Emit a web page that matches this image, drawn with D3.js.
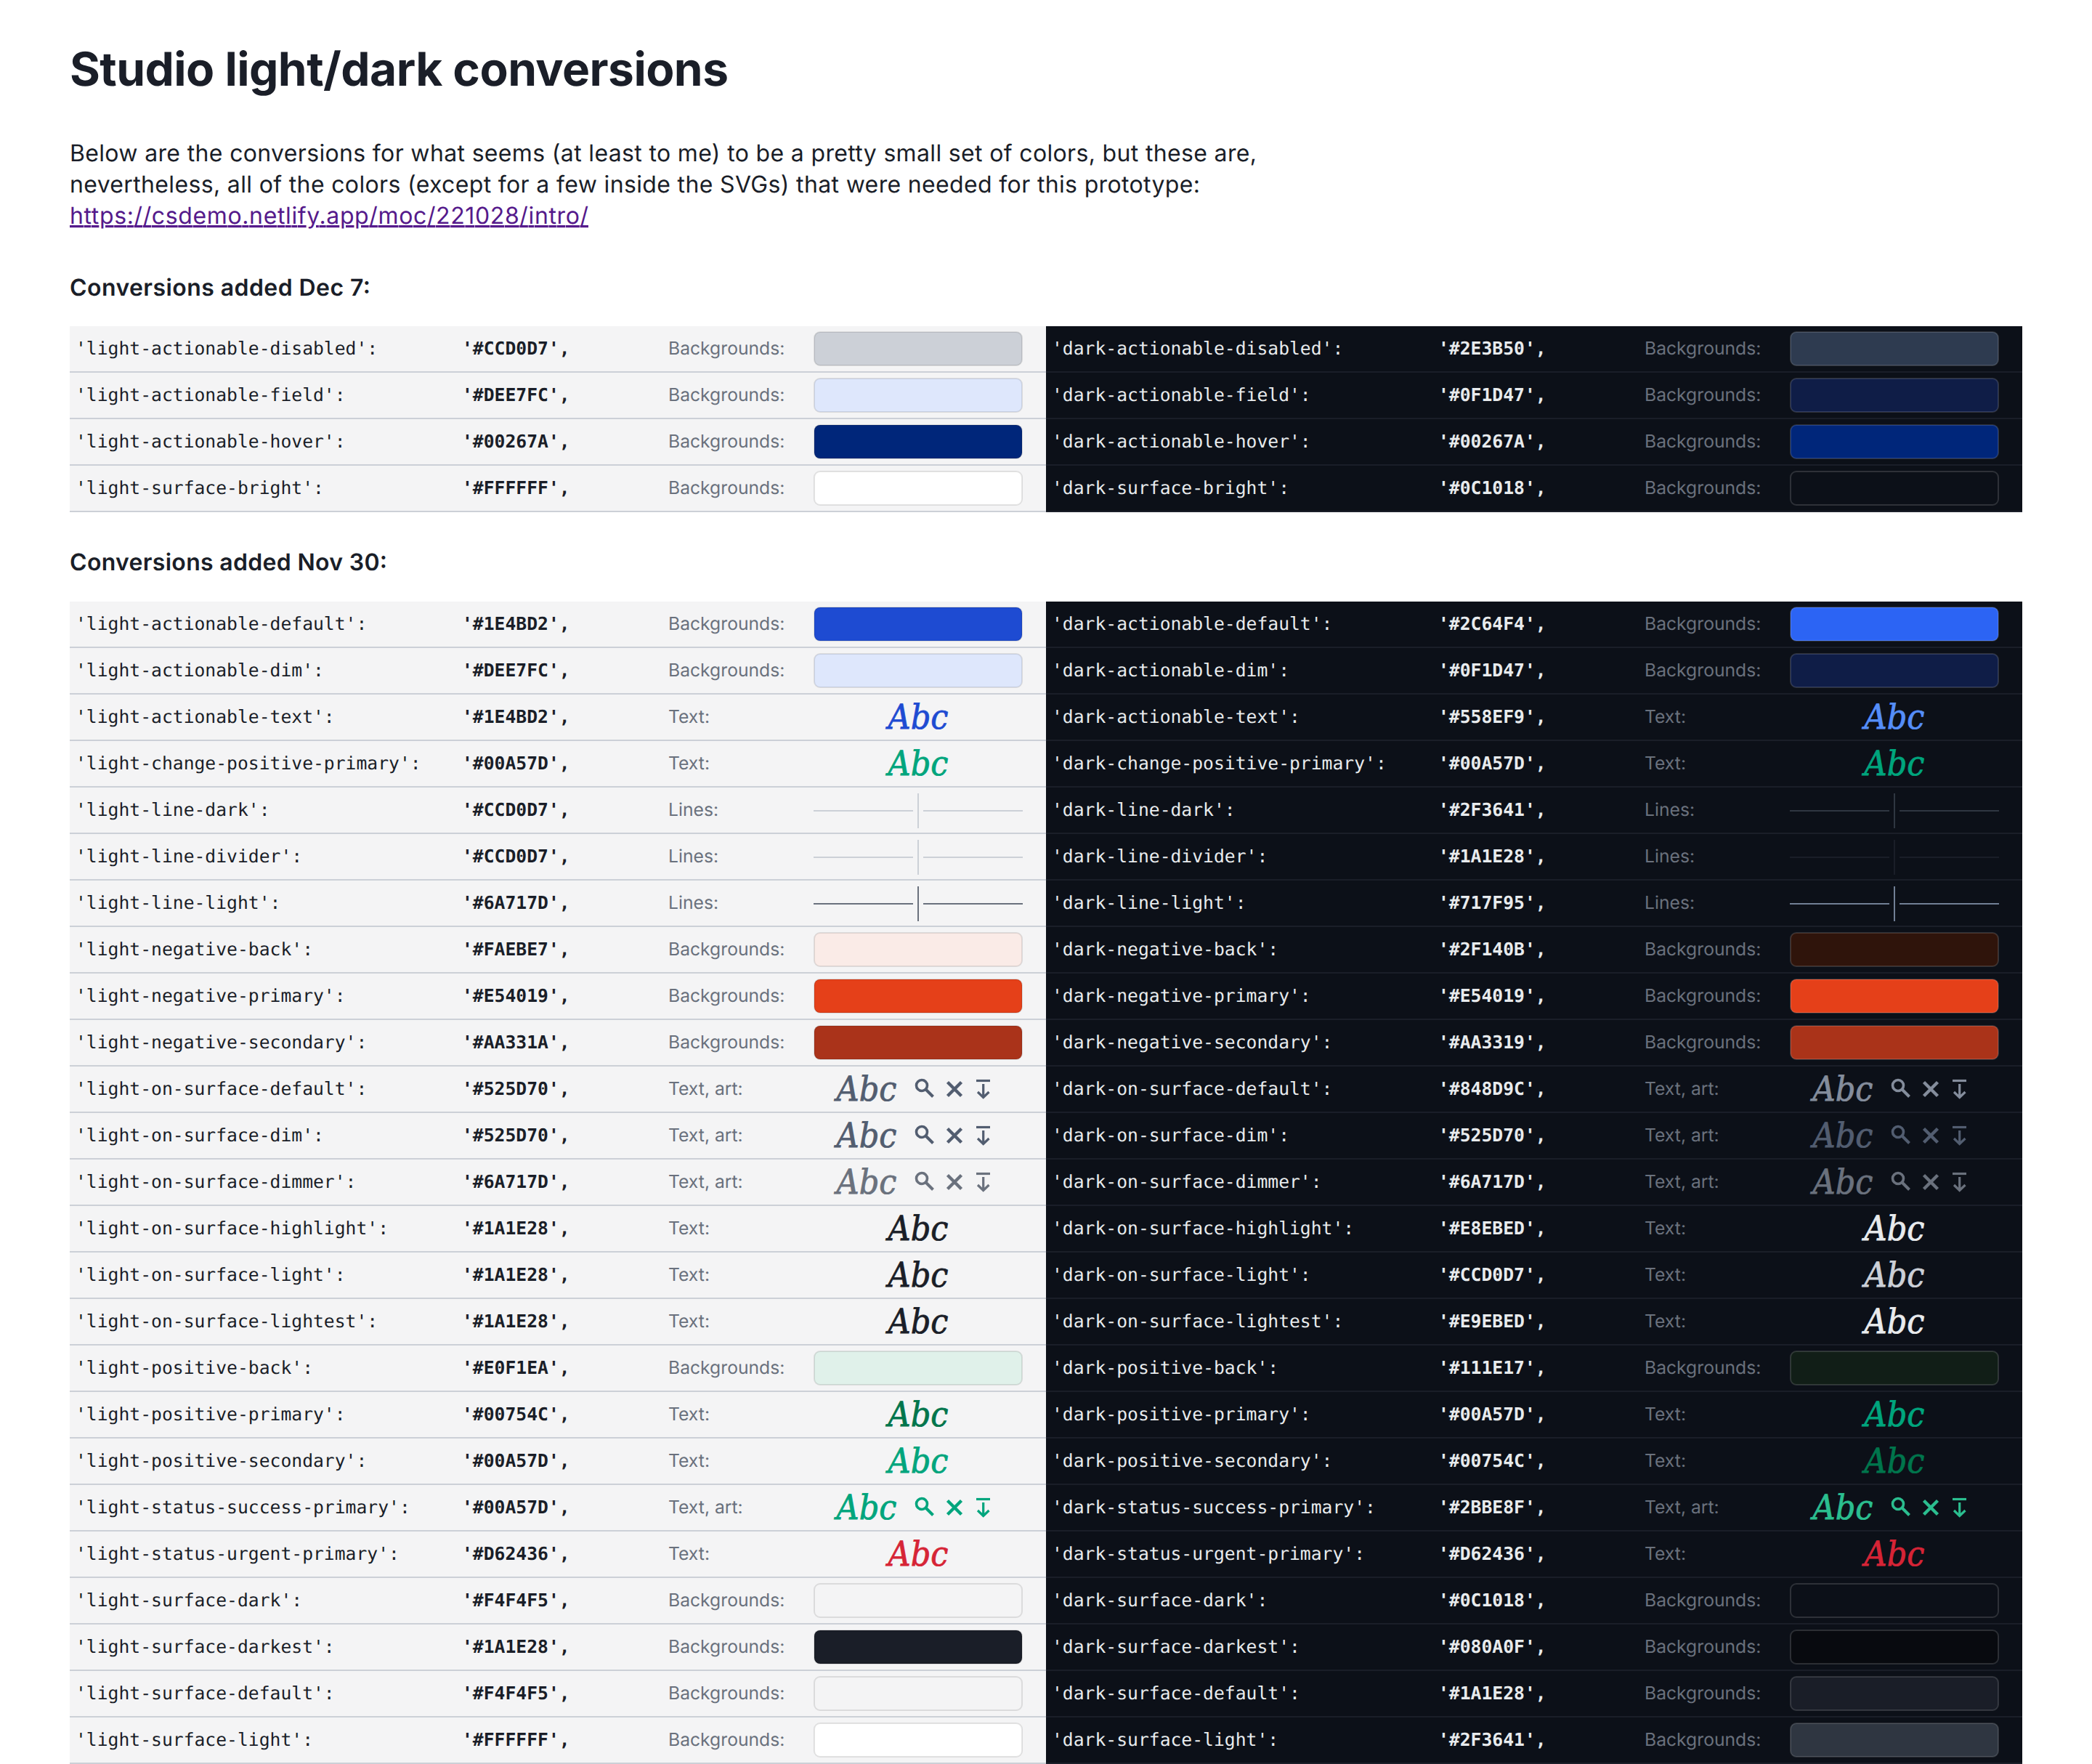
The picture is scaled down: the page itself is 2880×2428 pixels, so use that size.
<!DOCTYPE html>
<html><head><meta charset="utf-8">
<script src="https://cdn.jsdelivr.net/npm/d3@7"></script>
<style>
html,body{margin:0;padding:0;background:#fff;overflow:hidden}
svg{display:block}
text{text-rendering:geometricPrecision}
</style></head><body>
<div id="chart"></div>
<script>
// ---------- data ----------
const title = "Studio light/dark conversions";
const introLines = [
  "Below are the conversions for what seems (at least to me) to be a pretty small set of colors, but these are,",
  "nevertheless, all of the colors (except for a few inside the SVGs) that were needed for this prototype:"
];
const linkText = "https://csdemo.netlify.app/moc/221028/intro/";
const heading1 = "Conversions added Dec 7:";
const heading2 = "Conversions added Nov 30:";

const names1 = ["actionable-disabled","actionable-field","actionable-hover","surface-bright"];
const light1 = ["#CCD0D7","#DEE7FC","#00267A","#FFFFFF"];
const dark1  = ["#2E3B50","#0F1D47","#00267A","#0C1018"];
const kinds1 = ["bg","bg","bg","bg"];

const names2 = ["actionable-default","actionable-dim","actionable-text","change-positive-primary","line-dark","line-divider","line-light","negative-back","negative-primary","negative-secondary","on-surface-default","on-surface-dim","on-surface-dimmer","on-surface-highlight","on-surface-light","on-surface-lightest","positive-back","positive-primary","positive-secondary","status-success-primary","status-urgent-primary","surface-dark","surface-darkest","surface-default","surface-light"];
const light2 = ["#1E4BD2","#DEE7FC","#1E4BD2","#00A57D","#CCD0D7","#CCD0D7","#6A717D","#FAEBE7","#E54019","#AA331A","#525D70","#525D70","#6A717D","#1A1E28","#1A1E28","#1A1E28","#E0F1EA","#00754C","#00A57D","#00A57D","#D62436","#F4F4F5","#1A1E28","#F4F4F5","#FFFFFF"];
const dark2  = ["#2C64F4","#0F1D47","#558EF9","#00A57D","#2F3641","#1A1E28","#717F95","#2F140B","#E54019","#AA3319","#848D9C","#525D70","#6A717D","#E8EBED","#CCD0D7","#E9EBED","#111E17","#00A57D","#00754C","#2BBE8F","#D62436","#0C1018","#080A0F","#1A1E28","#2F3641"];
const kinds2 = ["bg","bg","text","text","line","line","line","bg","bg","bg","art","art","art","text","text","text","bg","text","text","art","text","bg","bg","bg","bg"];
const kindLabels = {bg:"Backgrounds:",text:"Text:",line:"Lines:",art:"Text, art:"};

// ---------- layout ----------
const W = 2880, H = 2428;
const sans = "Inter, 'Noto Sans', sans-serif", mono = "'DejaVu Sans Mono', monospace", serif = "'DejaVu Serif', serif";
const svg = d3.select("#chart").append("svg").attr("width",W).attr("height",H).attr("viewBox",[0,0,W,H]);
const inkDark = "#1A1E28";

function prose(str, y, size, weight, fill, length){
  return svg.append("text").attr("x",96).attr("y",y).attr("font-family",sans).attr("font-size",size)
    .attr("font-weight",weight).attr("fill",fill).attr("textLength",length).attr("lengthAdjust","spacing").text(str);
}
prose(title, 118, 64, 650, inkDark, 907);
prose(introLines[0], 222, 32, 400, inkDark, 1634);
prose(introLines[1], 265, 32, 400, inkDark, 1556);
prose(linkText, 308, 32, 400, "#551A8B", 714).attr("text-decoration","underline");
prose(heading1, 407, 32, 600, inkDark, 414);
prose(heading2, 785, 32, 600, inkDark, 437);

const themes = [
  {id:"light", x0:96, bg:"#F4F4F5", line:"#CCD0D7", key:"#1A1E28", label:"#6A717D", border:"rgba(0,0,0,0.1)"},
  {id:"dark", x0:1440, bg:"#0C1018", line:"#1A1E28", key:"#E8EBED", label:"#6A717D", border:"rgba(255,255,255,0.14)"}
];

function drawIcons(g, cx, y, color){
  const s = g.append("g").attr("fill","none").attr("stroke",color).attr("transform",`translate(${cx},${y})`);
  s.append("circle").attr("cx",9).attr("cy",26).attr("r",7.5).attr("stroke-width",3.6);
  s.append("path").attr("d","M15,32L24.5,41.5").attr("stroke-width",4);
  s.append("path").attr("d","M44.5,21.5L63.5,40.5M63.5,21.5L44.5,40.5").attr("stroke-width",4.4);
  s.append("path").attr("d","M84,19.5H103").attr("stroke-width",3.2);
  s.append("path").attr("d","M93.7,24V42.5M86,35L93.7,42.5L101.5,35").attr("stroke-width",3.2);
}

function abc(g, x, y, c){
  g.append("text").attr("x",x).attr("y",y).attr("text-anchor","middle").attr("font-family",serif)
    .attr("font-style","italic").attr("font-size",47).attr("textLength",83).attr("lengthAdjust","spacingAndGlyphs")
    .attr("fill",c).attr("stroke",c).attr("stroke-width",0.8).text("Abc");
}

function drawTable(top, names, lights, darks, kinds){
  const y = d3.scaleBand().domain(names).range([top, top+names.length*64]);
  themes.forEach(th=>{
    const vals = th.id==="light" ? lights : darks;
    const x = d3.scaleLinear().domain([0,1344]).range([th.x0, th.x0+1344]);
    const g = svg.append("g");
    g.selectAll("rect.row").data(names).join("rect").attr("class","row")
      .attr("x",x(0)).attr("width",1344).attr("y",d=>y(d)).attr("height",64).attr("fill",th.bg);
    g.selectAll("rect.rule").data(names).join("rect").attr("class","rule")
      .attr("x",x(0)).attr("width",1344).attr("y",d=>y(d)+62).attr("height",2).attr("fill",th.line);
    g.selectAll("text.key").data(names).join("text").attr("class","key")
      .attr("x",x(8)).attr("y",d=>y(d)+39).attr("font-family",mono).attr("font-size",24.7).attr("fill",th.key)
      .text(d=>`'${th.id}-${d}':`);
    g.selectAll("text.val").data(names).join("text").attr("class","val")
      .attr("x",x(540)).attr("y",d=>y(d)+39).attr("font-family",mono).attr("font-size",24.7).attr("font-weight",700).attr("fill",th.key)
      .text((d,i)=>`'${vals[i]}',`);
    g.selectAll("text.kind").data(names).join("text").attr("class","kind")
      .attr("x",x(824)).attr("y",d=>y(d)+39).attr("font-family",sans).attr("font-size",24.7).attr("fill",th.label)
      .text((d,i)=>kindLabels[kinds[i]]);
    names.forEach((n,i)=>{
      const k = kinds[i], c = vals[i], top = y(n), sx = x(1024), cx = x(1168);
      if(k==="bg"){
        g.append("rect").attr("x",sx+1).attr("y",top+8).attr("width",286).attr("height",46).attr("rx",8).attr("fill",c);
        g.append("rect").attr("x",sx+1).attr("y",top+8).attr("width",286).attr("height",46).attr("rx",8).attr("fill","none").attr("stroke",th.border).attr("stroke-width",2);
      } else if(k==="line"){
        g.append("rect").attr("x",sx).attr("y",top+31).attr("width",137).attr("height",2).attr("fill",c);
        g.append("rect").attr("x",sx+151).attr("y",top+31).attr("width",137).attr("height",2).attr("fill",c);
        g.append("rect").attr("x",cx-1).attr("y",top+8).attr("width",2).attr("height",48).attr("fill",c);
      } else if(k==="text"){
        abc(g, cx, top+47, c);
      } else {
        abc(g, cx-71, top+47, c);
        drawIcons(g, x(1164), top, c);
      }
    });
  });
}
drawTable(449, names1, light1, dark1, kinds1);
drawTable(828, names2, light2, dark2, kinds2);
</script>
</body></html>
